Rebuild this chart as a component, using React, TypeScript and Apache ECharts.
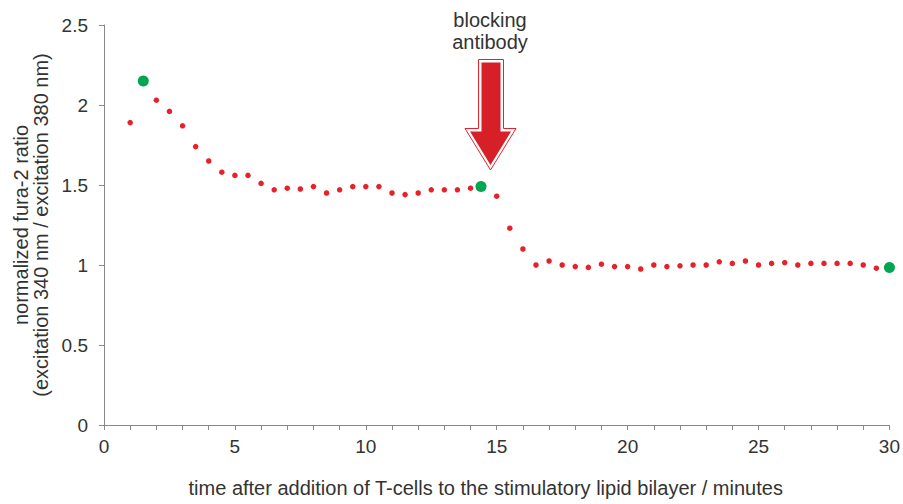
import React, { useEffect, useRef } from "react";
import * as echarts from "echarts";

const redX = [1, 2, 2.5, 3, 3.5, 4, 4.5, 5, 5.5, 6, 6.5, 7, 7.5, 8, 8.5, 9, 9.5, 10, 10.5, 11, 11.5, 12, 12.5, 13, 13.5, 14, 15, 15.5, 16, 16.5, 17, 17.5, 18, 18.5, 19, 19.5, 20, 20.5, 21, 21.5, 22, 22.5, 23, 23.5, 24, 24.5, 25, 25.5, 26, 26.5, 27, 27.5, 28, 28.5, 29, 29.5];
const redY = [1.89, 2.03, 1.96, 1.87, 1.74, 1.65, 1.58, 1.56, 1.56, 1.51, 1.47, 1.48, 1.475, 1.49, 1.45, 1.47, 1.49, 1.49, 1.49, 1.45, 1.44, 1.45, 1.47, 1.47, 1.47, 1.48, 1.43, 1.23, 1.1, 1.0, 1.025, 1.0, 0.99, 0.985, 1.005, 0.99, 0.99, 0.975, 1.0, 0.99, 0.995, 1.0, 1.0, 1.02, 1.01, 1.025, 1.0, 1.01, 1.015, 1.0, 1.01, 1.01, 1.01, 1.01, 1.0, 0.98];
const greenX = [1.5, 14.4, 30];
const greenY = [2.15, 1.49, 0.985];
const yTicks = [0, 0.5, 1, 1.5, 2, 2.5];
const annotation = ["blocking", "antibody"];

export default function App() {
  const ref = useRef<HTMLDivElement>(null);
  useEffect(() => {
    if (!ref.current) return;
    const chart = echarts.init(ref.current, null, { renderer: "svg" });
    const font = "Liberation Sans, Arial, sans-serif";
    const red = "#e8202a";
    chart.setOption({
      animation: false,
      backgroundColor: "#ffffff",
      grid: { left: 104, right: 12, top: 25, bottom: 79 },
      xAxis: {
        type: "value",
        min: 0,
        max: 30,
        interval: 5,
        name: "time after addition of T-cells to the stimulatory lipid bilayer / minutes",
        nameLocation: "middle",
        nameGap: 53,
        nameTextStyle: { fontFamily: font, fontSize: 20, color: "#333", padding: [0, 22, 0, 0] },
        axisLine: { show: true, lineStyle: { color: "#888", width: 1 } },
        axisTick: { show: true, length: 5, lineStyle: { color: "#888" } },
        minorTick: { show: true, splitNumber: 5, length: 5, lineStyle: { color: "#888" } },
        axisLabel: { fontFamily: font, fontSize: 19, color: "#333", margin: 12 },
        splitLine: { show: false },
      },
      yAxis: {
        type: "value",
        min: 0,
        max: 2.5,
        interval: 0.5,
        name: "normalized fura-2 ratio\n(excitation 340 nm / excitation 380 nm)",
        nameLocation: "middle",
        nameGap: 50,
        nameTextStyle: { fontFamily: font, fontSize: 20, color: "#333", lineHeight: 20 },
        axisLine: { show: true, lineStyle: { color: "#888", width: 1 } },
        axisTick: { show: true, length: 5, lineStyle: { color: "#888" } },
        axisLabel: {
          fontFamily: font,
          fontSize: 19,
          color: "#333",
          margin: 16,
          formatter: (v: number) => (yTicks.includes(v) ? String(v) : ""),
        },
        splitLine: { show: false },
      },
      series: [
        {
          type: "scatter",
          data: redX.map((x, i) => [x, redY[i]]),
          symbolSize: 5.5,
          itemStyle: { color: red, opacity: 1 },
        },
        {
          type: "scatter",
          data: greenX.map((x, i) => [x, greenY[i]]),
          symbolSize: 11,
          itemStyle: { color: "#00a651", opacity: 1 },
        },
      ],
      graphic: [
        {
          type: "text",
          x: 490,
          y: 9,
          style: {
            text: annotation.join("\n"),
            align: "center",
            verticalAlign: "top",
            fontFamily: font,
            fontSize: 20,
            lineHeight: 22,
            fill: "#333",
          },
        },
        {
          type: "polygon",
          shape: {
            points: [
              [478.5, 59.5],
              [503.5, 59.5],
              [503.5, 128.5],
              [516, 128.5],
              [490.5, 170],
              [465, 128.5],
              [478.5, 128.5],
            ],
          },
          style: { fill: "none", stroke: red, lineWidth: 1 },
        },
        {
          type: "polygon",
          shape: {
            points: [
              [481.5, 62.5],
              [500.5, 62.5],
              [500.5, 131.5],
              [511, 131.5],
              [490.5, 165],
              [470, 131.5],
              [481.5, 131.5],
            ],
          },
          style: { fill: "#d71f28", stroke: "none" },
        },
      ],
    });
    return () => chart.dispose();
  }, []);
  return (
    <div
      ref={ref}
      style={{ position: "fixed", left: 0, top: 0, width: 903, height: 504, background: "#fff" }}
    />
  );
}
